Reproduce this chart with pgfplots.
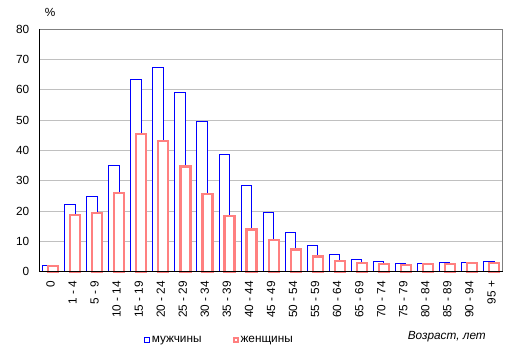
\documentclass[border=0pt]{standalone}
\usepackage{fontspec}
\setmainfont{Liberation Sans}
\usepackage{pgfplots}
\pgfplotsset{compat=1.18}
\definecolor{mblue}{RGB}{0,0,255}
\definecolor{fred}{RGB}{255,128,128}
\definecolor{gridc}{RGB}{192,192,192}
\definecolor{boxc}{RGB}{128,128,128}
\newcommand{\chartfont}{\fontsize{11.8bp}{13bp}\selectfont}
\begin{document}
\chartfont
\begin{tikzpicture}
\path[use as bounding box] (-39.5bp,-84.3bp) rectangle (478.5bp,271.7bp);
\begin{axis}[
  at={(0,0)}, anchor=south west,
  scale only axis, width=463bp, height=242.4bp,
  ybar,
  xmin=-0.5, xmax=20.5, ymin=0, ymax=80,
  xtick={0,...,20},
  xticklabels={0,1 - 4,5 - 9,10 - 14,15 - 19,20 - 24,25 - 29,30 - 34,35 - 39,40 - 44,45 - 49,50 - 54,55 - 59,60 - 64,65 - 69,70 - 74,75 - 79,80 - 84,85 - 89,90 - 94,95 +},
  ytick={0,10,...,80},
  major tick length=0pt,
  ymajorgrids, grid style={gridc, line width=0.9bp},
  axis line style={boxc, line width=0.9bp},
  x tick label style={rotate=90, anchor=east, inner sep=0pt, font=\chartfont},
  y tick label style={anchor=east, inner sep=0pt, font=\chartfont},
  xticklabel shift=9bp, yticklabel shift=10bp,
  /pgf/number format/assume math mode=true,
  clip=false,
  legend style={draw=none, at={(0.389,-0.282)}, anchor=center, legend columns=2,
    font=\chartfont,
    /tikz/every even column/.append style={column sep=29bp}},
]
\addplot[bar width=10.5bp, bar shift=-2.7bp, draw=mblue, fill=white, line width=0.9bp,
  legend image code/.code={\draw[draw=mblue, line width=0.9bp, fill=white] (4bp,-2.8bp) rectangle (8.5bp,2.8bp);}]
  coordinates {(0,2.1) (1,22.2) (2,24.8) (3,35.1) (4,63.5) (5,67.5) (6,59.2) (7,49.6) (8,38.7) (9,28.5) (10,19.7) (11,13.0) (12,8.7) (13,5.7) (14,4.1) (15,3.4) (16,2.8) (17,2.8) (18,3.1) (19,3.1) (20,3.4)};
\addlegendentry{мужчины}
\addplot[bar width=10bp, bar shift=2.6bp, draw=fred, fill=white, line width=2.2bp,
  legend image code/.code={\draw[draw=fred, line width=2bp, fill=white] (4.5bp,-2bp) rectangle (8.5bp,2bp);}]
  coordinates {(0,1.9) (1,18.7) (2,19.5) (3,26.1) (4,45.4) (5,43.2) (6,34.7) (7,25.7) (8,18.5) (9,13.9) (10,10.4) (11,7.3) (12,5.0) (13,3.6) (14,3.0) (15,2.6) (16,2.3) (17,2.6) (18,2.6) (19,3.0) (20,3.0)};
\addlegendentry{женщины}
\draw[black, line width=0.9bp] (rel axis cs:0,1) -- (rel axis cs:0,0) -- (rel axis cs:1,0);
\node[anchor=center, inner sep=0pt] at ([xshift=10.5bp, yshift=16.6bp]rel axis cs:0,1) {\%};
\node[anchor=east, inner sep=0pt, font=\chartfont\itshape] at ([xshift=446.5bp, yshift=-65.3bp]rel axis cs:0,0) {Возраст, лет};
\end{axis}
\end{tikzpicture}
\end{document}
